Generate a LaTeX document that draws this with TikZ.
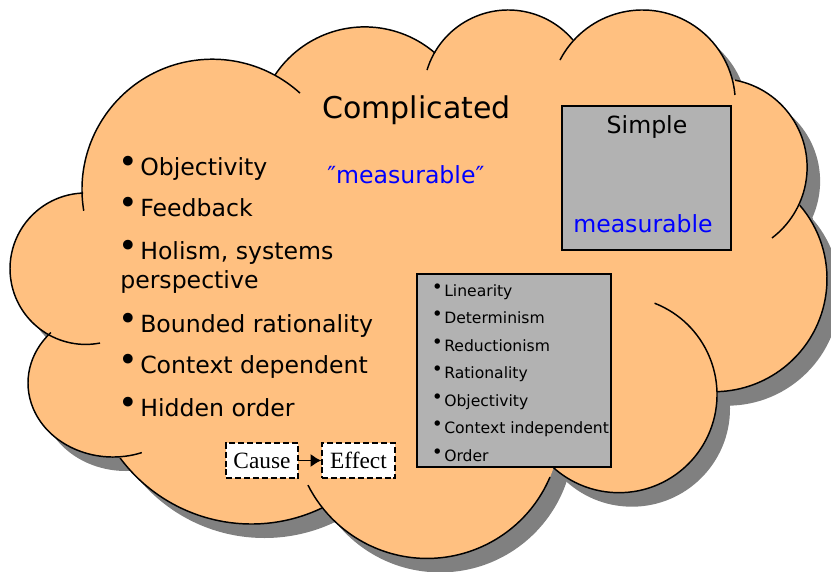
\documentclass[tikz,border=0pt]{standalone}
\usepackage{fontspec}
\setmainfont{DejaVu Sans}
\newfontfamily\serifface{Liberation Serif}
\usetikzlibrary{arrows.meta}
\definecolor{cloudfill}{RGB}{255,192,128}
\definecolor{shadowgray}{RGB}{128,128,128}
\definecolor{boxgray}{RGB}{178,178,178}
\definecolor{measblue}{RGB}{0,0,255}
\newcommand\bulbig{\makebox[15pt][l]{\kern-1pt\raisebox{1.4pt}{\fontsize{25pt}{25pt}\selectfont •}}}
\newcommand\bulsmall{\makebox[10.5pt][l]{\kern1.2pt\raisebox{2.0pt}{\fontsize{14pt}{14pt}\selectfont •}}}
\newcommand\cloudshapes{%
  \fill (212.3,189.5) circle[radius=130.3];
  \fill (364.7,134.6) circle[radius=107.7];
  \fill (508.2,94.9) circle[radius=84.9];
  \fill (642.4,102.9) circle[radius=92.9];
  \fill (718.4,167.3) circle[radius=88.7];
  \fill (714.1,278.8) circle[radius=112.9];
  \fill (618.9,394.6) circle[radius=98.1];
  \fill (427.1,424.9) circle[radius=133.5];
  \fill (251.4,360.4) circle[radius=163.6];
  \fill (113,383) ellipse[x radius=85, y radius=74];
  \fill (85.7,268.7) circle[radius=75.7];
  \fill (83,193) -- (275,75) -- (427,70) -- (560,60) -- (735,80) -- (800,205)
        -- (717,392) -- (552,466) -- (322,508) -- (120,458) -- (50,332) -- cycle;
}
\begin{document}
\begin{tikzpicture}[x=0.75pt,y=-0.75pt,
  cloudline/.style={line width=1.1pt, black},
  graybox/.style={draw=black, line width=1.3pt, fill=boxgray, inner sep=0},
  dashbox/.style={draw=black, dashed, dash pattern=on 4.5pt off 2.2pt, line width=1.1pt, fill=white, inner sep=0,
                  minimum height=26.25pt, font=\serifface\fontsize{17.5pt}{20pt}\selectfont},
  titletext/.style={font=\fontsize{22.5pt}{26pt}\selectfont, inner sep=0, anchor=base west},
  bigtext/.style={font=\fontsize{17.7pt}{20pt}\selectfont, inner sep=0, anchor=base west},
  smalltext/.style={font=\fontsize{11.7pt}{14pt}\selectfont, inner sep=0, anchor=base west}]
\useasboundingbox (0,0) rectangle (831,571);
% shadow
\begin{scope}[shift={(13,14)}, fill=shadowgray]
  \cloudshapes
\end{scope}
% fill
\begin{scope}[fill=cloudfill]
  \cloudshapes
\end{scope}
% outline arcs
\draw[cloudline] (212.3,189.5) ++(170.6:130.3) arc[start angle=170.6, end angle=312.3, radius=130.3];
\draw[cloudline] (364.7,134.6) ++(213.6:107.7) arc[start angle=213.6, end angle=310.7, radius=107.7];
\draw[cloudline] (508.2,94.9) ++(197:84.9) arc[start angle=197, end angle=319.7, radius=84.9];
\draw[cloudline] (642.4,102.9) ++(207.5:92.9) arc[start angle=207.5, end angle=355.1, radius=92.9];
\draw[cloudline] (718.4,167.3) ++(280.8:88.7) arc[start angle=280.8, end angle=412.8, radius=88.7];
\draw[cloudline] (714.1,278.8) ++(-40.7:112.9) arc[start angle=-40.7, end angle=88.5, radius=112.9];
\draw[cloudline] (618.9,394.6) ++(-68.7:98.1) arc[start angle=-68.7, end angle=133, radius=98.1];
\draw[cloudline] (427.1,424.9) ++(23:133.5) arc[start angle=23, end angle=153.2, radius=133.5];
\draw[cloudline] (251.4,360.4) ++(64.4:163.6) arc[start angle=64.4, end angle=143.4, radius=163.6];
\draw[cloudline] (113,383) ++(70.2:85 and 74) arc[start angle=70.2, end angle=223, x radius=85, y radius=74];
\draw[cloudline] (85.7,268.7) ++(79.1:75.7) arc[start angle=79.1, end angle=268, radius=75.7];
% boxes
\node[graybox, minimum width=126.75pt, minimum height=108pt] (simplebox) at (646.5,178) {};
\node[graybox, minimum width=145.5pt, minimum height=144.75pt] (listbox) at (514,370.5) {};
% texts
\node[titletext] (complicated) at (322,118) {Complicated};
\node[bigtext, text=measblue] (quotedmeas) at (327,183) {″measurable″};
\node[bigtext, anchor=base] (simple) at (647,133) {Simple};
\node[bigtext, text=measblue] (meas) at (573,232) {measurable};
\node[bigtext] (l1) at (120,175) {\bulbig Objectivity};
\node[bigtext] (l2) at (120,216) {\bulbig Feedback};
\node[bigtext] (l3) at (120,259) {\bulbig Holism, systems};
\node[bigtext] (l3b) at (120,288) {perspective};
\node[bigtext] (l4) at (120,332) {\bulbig Bounded rationality};
\node[bigtext] (l5) at (120,373) {\bulbig Context dependent};
\node[bigtext] (l6) at (120,416) {\bulbig Hidden order};
\node[smalltext] (s1) at (430,296) {\bulsmall Linearity};
\node[smalltext] (s2) at (430,323.5) {\bulsmall Determinism};
\node[smalltext] (s3) at (430,351) {\bulsmall Reductionism};
\node[smalltext] (s4) at (430,378.5) {\bulsmall Rationality};
\node[smalltext] (s5) at (430,406) {\bulsmall Objectivity};
\node[smalltext] (s6) at (430,433.5) {\bulsmall Context independent};
\node[smalltext] (s7) at (430,461) {\bulsmall Order};
% cause effect
\node[dashbox, minimum width=54pt] (cause) at (262,460.5) {Cause};
\node[dashbox, minimum width=54.75pt] (effect) at (358.5,460.5) {Effect};
\draw[line width=1.3pt, -{Latex[length=8pt, width=10pt]}] (cause) -- (effect);
\end{tikzpicture}
\end{document}
